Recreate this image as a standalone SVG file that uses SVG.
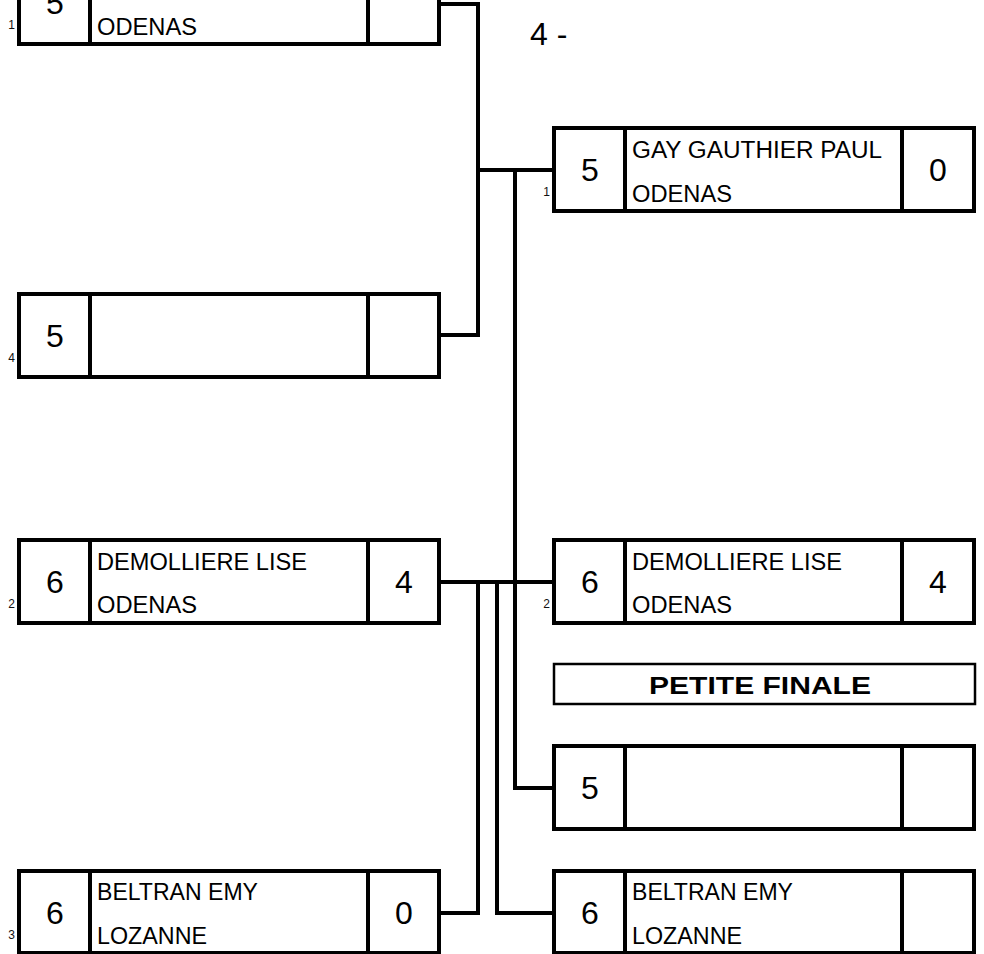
<svg xmlns="http://www.w3.org/2000/svg" width="984" height="954" viewBox="0 0 984 954">
<style>
.box{fill:#fff;stroke:#000;stroke-width:4}
.div{stroke:#000;stroke-width:4}
.pf{fill:#fff;stroke:#000;stroke-width:2.5}
.con{fill:none;stroke:#000;stroke-width:4;stroke-linecap:square}
.seed{font-family:"Liberation Sans",Arial,sans-serif;font-size:32px;text-anchor:middle;fill:#000}
.name{font-family:"Liberation Sans",Arial,sans-serif;font-size:23px;fill:#000}
.lab{font-family:"Liberation Sans",Arial,sans-serif;font-size:12px;text-anchor:end;fill:#111}
.title{font-family:"Liberation Sans",Arial,sans-serif;font-size:24px;font-weight:bold;text-anchor:middle;fill:#000}
</style>
<rect width="984" height="954" fill="#fff"/>
<g id="connectors">
<path class="con" d="M439 4 H478 V335 H439"/>
<path class="con" d="M478 170 H554"/>
<path class="con" d="M515 170 V788 H554"/>
<path class="con" d="M439 582 H554"/>
<path class="con" d="M478 582 V913 H439"/>
<path class="con" d="M497 582 V913 H554"/>
</g>
<g id="node-L1">
<rect class="box" x="19" y="-40" width="420" height="84"/>
<line class="div" x1="90" y1="-40" x2="90" y2="44"/>
<line class="div" x1="368" y1="-40" x2="368" y2="44"/>
<text class="seed" x="55" y="14">5</text>
<text class="name" x="97" y="35" textLength="100" lengthAdjust="spacingAndGlyphs">ODENAS</text>
<text class="lab" x="15" y="29">1</text>
</g>
<g id="round-label">
<text class="seed" x="530" y="45" style="text-anchor:start">4 -</text>
</g>
<g id="node-L4">
<rect class="box" x="19" y="294" width="420" height="83"/>
<line class="div" x1="90" y1="294" x2="90" y2="377"/>
<line class="div" x1="368" y1="294" x2="368" y2="377"/>
<text class="seed" x="55" y="347">5</text>
<text class="lab" x="15" y="362">4</text>
</g>
<g id="node-L2">
<rect class="box" x="19" y="540" width="420" height="83"/>
<line class="div" x1="90" y1="540" x2="90" y2="623"/>
<line class="div" x1="368" y1="540" x2="368" y2="623"/>
<text class="seed" x="55" y="593">6</text>
<text class="name" x="97" y="570" textLength="210" lengthAdjust="spacingAndGlyphs">DEMOLLIERE LISE</text>
<text class="name" x="97" y="613" textLength="100" lengthAdjust="spacingAndGlyphs">ODENAS</text>
<text class="seed" x="404" y="593">4</text>
<text class="lab" x="15" y="608">2</text>
</g>
<g id="node-L3">
<rect class="box" x="19" y="871" width="420" height="82"/>
<line class="div" x1="90" y1="871" x2="90" y2="953"/>
<line class="div" x1="368" y1="871" x2="368" y2="953"/>
<text class="seed" x="55" y="924">6</text>
<text class="name" x="97" y="900" textLength="161" lengthAdjust="spacingAndGlyphs">BELTRAN EMY</text>
<text class="name" x="97" y="944" textLength="110" lengthAdjust="spacingAndGlyphs">LOZANNE</text>
<text class="seed" x="404" y="924">0</text>
<text class="lab" x="15" y="939">3</text>
</g>
<g id="node-R1">
<rect class="box" x="554" y="128" width="420" height="83"/>
<line class="div" x1="625" y1="128" x2="625" y2="211"/>
<line class="div" x1="902" y1="128" x2="902" y2="211"/>
<text class="seed" x="590" y="181">5</text>
<text class="name" x="632" y="158" textLength="250" lengthAdjust="spacingAndGlyphs">GAY GAUTHIER PAUL</text>
<text class="name" x="632" y="202" textLength="100" lengthAdjust="spacingAndGlyphs">ODENAS</text>
<text class="seed" x="938" y="181">0</text>
<text class="lab" x="550" y="196">1</text>
</g>
<g id="node-R2">
<rect class="box" x="554" y="540" width="420" height="83"/>
<line class="div" x1="625" y1="540" x2="625" y2="623"/>
<line class="div" x1="902" y1="540" x2="902" y2="623"/>
<text class="seed" x="590" y="593">6</text>
<text class="name" x="632" y="570" textLength="210" lengthAdjust="spacingAndGlyphs">DEMOLLIERE LISE</text>
<text class="name" x="632" y="613" textLength="100" lengthAdjust="spacingAndGlyphs">ODENAS</text>
<text class="seed" x="938" y="593">4</text>
<text class="lab" x="550" y="608">2</text>
</g>
<g id="petite-finale">
<rect class="pf" x="554" y="664" width="421" height="40"/>
<text class="title" x="760" y="694" textLength="222" lengthAdjust="spacingAndGlyphs">PETITE FINALE</text>
</g>
<g id="node-R5">
<rect class="box" x="554" y="746" width="420" height="83"/>
<line class="div" x1="625" y1="746" x2="625" y2="829"/>
<line class="div" x1="902" y1="746" x2="902" y2="829"/>
<text class="seed" x="590" y="799">5</text>
</g>
<g id="node-R6">
<rect class="box" x="554" y="871" width="420" height="82"/>
<line class="div" x1="625" y1="871" x2="625" y2="953"/>
<line class="div" x1="902" y1="871" x2="902" y2="953"/>
<text class="seed" x="590" y="924">6</text>
<text class="name" x="632" y="900" textLength="161" lengthAdjust="spacingAndGlyphs">BELTRAN EMY</text>
<text class="name" x="632" y="944" textLength="110" lengthAdjust="spacingAndGlyphs">LOZANNE</text>
</g>
</svg>
